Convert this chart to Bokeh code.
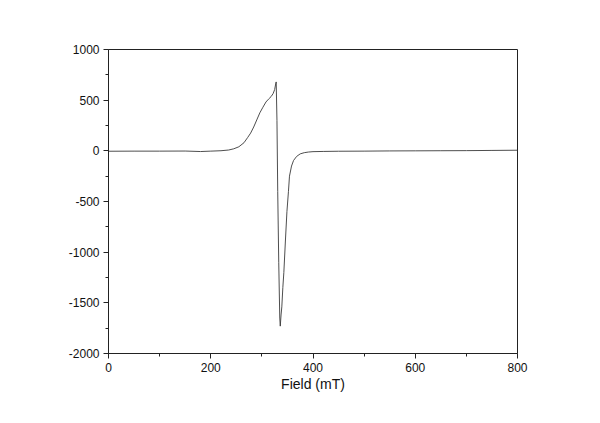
from bokeh.plotting import figure
from bokeh.models import FixedTicker, Range1d, PrintfTickFormatter
from bokeh.embed import file_html
from bokeh.resources import INLINE

# EPR spectrum
field_mT = [0, 50, 100, 150, 180, 200, 220, 235, 245, 255, 265, 272, 278, 284,
            290, 296, 302, 308, 313, 318, 322, 325, 327, 328, 329.5, 331, 333,
            335, 336, 337.5, 339, 341, 343, 346, 349, 352, 354, 358, 362, 368,
            375, 383, 391, 400, 420, 450, 500, 550, 600, 650, 700, 750, 800]
signal = [-4, -3, -3, -2, -7, -3, 1, 8, 20, 40, 80, 130, 175, 235,
          305, 375, 430, 482, 510, 535, 565, 605, 660, 680, 300, -400, -1100,
          -1650, -1730, -1620, -1540, -1350, -1200, -890, -600, -400, -250, -150, -95, -55,
          -30, -18, -12, -8, -6, -4, -3, -1, 0, 1, 2, 4, 6]

x_major = [0, 200, 400, 600, 800]
x_minor = [100, 300, 500, 700]
y_major = [-2000, -1500, -1000, -500, 0, 500, 1000]
y_minor = [-1750, -1250, -750, -250, 250, 750]
x_label = "Field (mT)"

p = figure(width=592, height=415, output_backend="svg", toolbar_location=None,
           x_range=Range1d(0, 800), y_range=Range1d(-2000, 1000),
           min_border_left=108, min_border_right=75, min_border_top=49,
           min_border_bottom=62)

p.line(field_mT, signal, line_color="#3a3a3a", line_width=0.9)

p.grid.visible = False
p.outline_line_color = "#222222"
p.outline_line_width = 1
p.background_fill_color = "white"
p.border_fill_color = "white"

p.xaxis.ticker = FixedTicker(ticks=x_major, minor_ticks=x_minor)
p.yaxis.ticker = FixedTicker(ticks=y_major, minor_ticks=y_minor)
p.xaxis.formatter = PrintfTickFormatter(format="%d")
p.yaxis.formatter = PrintfTickFormatter(format="%d")
p.xaxis.axis_label = x_label

for ax in (p.xaxis[0], p.yaxis[0]):
    ax.axis_line_color = "#222222"
    ax.major_tick_line_color = "#222222"
    ax.minor_tick_line_color = "#222222"
    ax.major_tick_in = 0
    ax.major_tick_out = 5
    ax.minor_tick_in = 0
    ax.minor_tick_out = 3
    ax.major_label_text_font = "Liberation Sans"
    ax.major_label_text_font_size = "12px"
    ax.major_label_text_color = "#111111"
    ax.major_label_standoff = 4
    ax.axis_label_text_font = "Liberation Sans"
    ax.axis_label_text_font_size = "14px"
    ax.axis_label_text_font_style = "normal"
    ax.axis_label_text_color = "#111111"

p.xaxis.axis_label_standoff = 1

open("out.html", "w").write(file_html(p, INLINE))
